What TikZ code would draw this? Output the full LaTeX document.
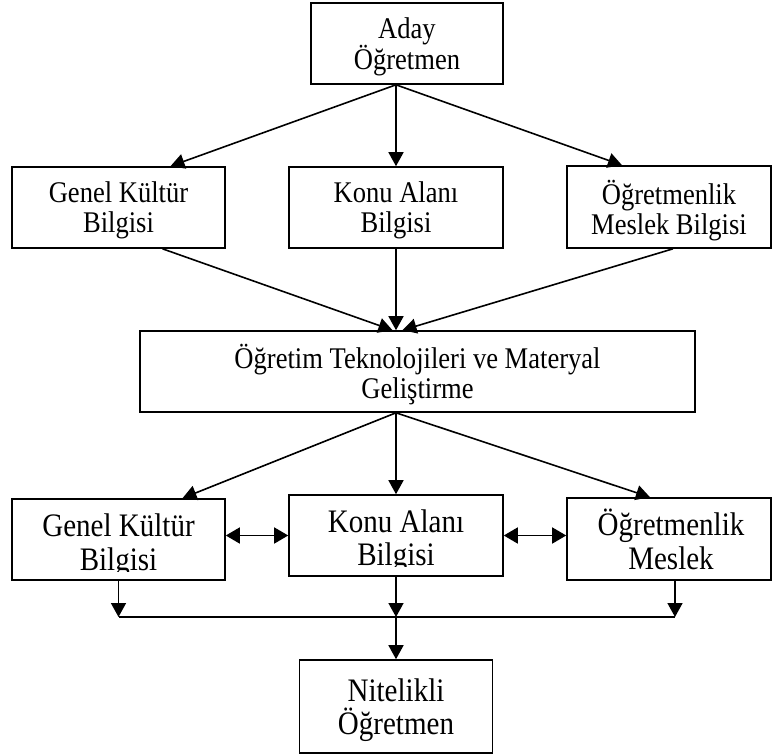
\documentclass[tikz,border=0pt]{standalone}
\usepackage{fontspec}
\setmainfont{Liberation Serif}[FakeStretch=0.885]
\usetikzlibrary{arrows.meta,positioning,calc}

\begin{document}
\begin{tikzpicture}[x=1pt, y=1pt,
    box/.style={draw, line width=1.6pt, inner sep=0pt, align=center, text depth=0pt},
    upper/.style={font=\fontsize{30}{30}\selectfont},
    lower/.style={font=\fontsize{32.8}{33.5}\selectfont},
    arr/.style={-{Triangle[length=14pt,width=15pt]}, line width=1.6pt},
    dbl/.style={{Triangle[length=14pt,width=16pt]}-{Triangle[length=14pt,width=16pt]}, line width=1.6pt}
]
\useasboundingbox (0,0) rectangle (772,-755);

% aday ogretmen ve bilgi turleri
\node[box, upper, minimum width=192pt, minimum height=81pt] (aday) at (407,-43.5) {Aday\\Öğretmen};
\node[box, upper, minimum width=213pt, minimum height=81pt] (genel1) at (118.5,-207.5) {Genel Kültür\\Bilgisi};
\node[box, upper, minimum width=214pt, minimum height=81pt] (konu1) at (396,-207.5) {Konu Alanı\\Bilgisi};
\node[box, upper, minimum width=204pt, minimum height=82pt] (ogr1) at (669,-207) {Öğretmenlik\\Meslek Bilgisi};

% ortadaki kutu
\node[box, upper, minimum width=555pt, minimum height=81pt] (mid) at (417.5,-371.5) {Öğretim Teknolojileri ve Materyal\\Geliştirme};

% alt sira (metin kutuda kesiliyor)
\node[box, minimum width=213pt, minimum height=81pt] (genel2) at (118.5,-539.5) {};
\node[box, minimum width=214pt, minimum height=81pt] (konu2) at (396,-535.5) {};
\node[box, minimum width=204pt, minimum height=82pt] (ogr2) at (669,-539) {};
\begin{scope}
  \clip (genel2.north west) rectangle ([yshift=9pt]genel2.south east);
  \node[lower, align=center, anchor=base] (genel2txt) at (118.5,-570) {Genel Kültür\\Bilgisi};
\end{scope}
\begin{scope}
  \clip (konu2.north west) rectangle ([yshift=10pt]konu2.south east);
  \node[lower, align=center, anchor=base] (konu2txt) at (396,-565.5) {Konu Alanı\\Bilgisi};
\end{scope}
\begin{scope}
  \clip (ogr2.north west) rectangle ([yshift=9pt]ogr2.south east);
  \node[lower, align=center, anchor=base] (ogr2txt) at (671,-569) {Öğretmenlik\\Meslek};
\end{scope}

\node[box, lower, minimum width=193pt, minimum height=93pt] (nit) at (396,-706.5) {Nitelikli\\Öğretmen};

% oklar
\draw[arr] (aday.south -| konu1) -- ([xshift=52pt]genel1.north);
\draw[arr] (aday.south -| konu1) -- (konu1.north);
\draw[arr] (aday.south -| konu1) -- ([xshift=-47pt]ogr1.north);

\draw[arr] ([xshift=44pt]genel1.south) -- ([xshift=-25pt]mid.north);
\draw[arr] (konu1.south) -- (konu1.south |- mid.north);
\draw[arr] ([xshift=4pt]ogr1.south) -- ([xshift=-15pt]mid.north);

\draw[arr] (mid.south -| konu2) -- ([xshift=64pt]genel2.north);
\draw[arr] (mid.south -| konu2) -- (konu2.north);
\draw[arr] (mid.south -| konu2) -- ([xshift=-19pt]ogr2.north);

\draw[dbl] (konu2.west -| genel2.east) -- (konu2.west);
\draw[dbl] (konu2.east) -- (konu2.east -| ogr2.west);

% birlesme cizgisi
\coordinate (busL) at (genel2.south |- 0,-617);
\coordinate (busM) at (konu2.south |- 0,-617);
\coordinate (busR) at ([xshift=6pt]ogr2.south |- 0,-617);
\draw[arr] (genel2.south) -- (busL);
\draw[arr] (konu2.south) -- (busM);
\draw[arr] ([xshift=6pt]ogr2.south) -- (busR);
\draw[line width=1.6pt] (busL) -- (busR);
\draw[arr] (busM) -- (nit.north);
\end{tikzpicture}
\end{document}
